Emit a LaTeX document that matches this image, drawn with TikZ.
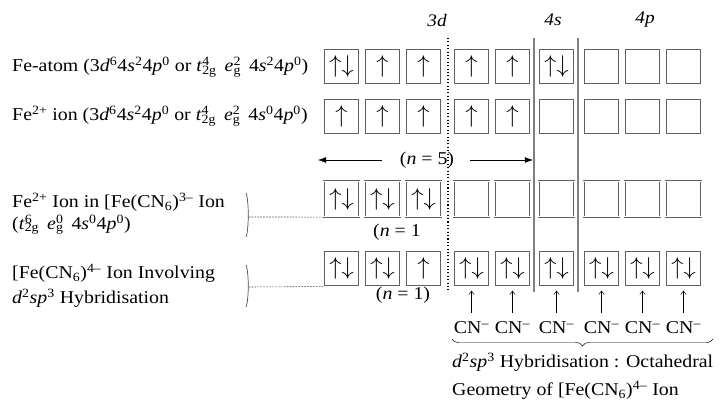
\documentclass[tikz,border=0pt]{standalone}
\usepackage{fontspec}
\setmainfont{Liberation Serif}[FakeStretch=1.1]
\usetikzlibrary{positioning,arrows.meta,decorations.pathreplacing}

\newcommand{\orb}[3]{#1\textit{#2}\textsuperscript{#3}}
\newcommand{\orbsub}[3]{\textit{#1}\rlap{\textsuperscript{#2}}\textsubscript{#3}\,}
\newcommand{\ud}{$\uparrow\downarrow$}
\newcommand{\uo}{$\uparrow$}
\newcommand{\cnion}{CN\textsuperscript{–}}

\begin{document}
\begin{tikzpicture}[
    x=0.03cm, y=-0.03cm,
    font=\fontsize{15.4}{19}\selectfont,
    orbital/.style={rectangle, draw=gray!75!black, double, double distance=0.7pt, minimum size=1.07cm, inner sep=0pt, font=\fontsize{21}{21}\selectfont},
    label/.style={anchor=west, align=left, inner sep=0pt},
    shell/.style={font=\fontsize{15}{15}\selectfont\itshape},
    divider/.style={draw=gray, line width=0.9pt},
    bracket/.style={draw=gray!60!black, line width=0.6pt},
    link/.style={draw=gray!60!black, dash pattern=on 1.5pt off 1pt, line width=0.5pt},
    cnarrow/.style={-{Straight Barb[length=3pt,width=4.5pt]}, thin, shorten <=1.5mm, shorten >=1.2mm}
]
\useasboundingbox (0,0) rectangle (721,400);

% Shell headings and dividers
\node[shell] (h3d) at (437,20) {3d};
\node[shell] (h4s) at (553,20) {4s};
\node[shell] (h4p) at (645,20) {4p};
\draw[divider, dotted, line width=1pt, black] (448,38) -- (448,292);
\draw[divider] (534,38) -- (534,292);
\draw[divider] (578,38) -- (578,292);

% Row 1 - Fe atom
\node[label] (lab1) at (12,67) {Fe-atom (\orb{3}{d}{6}\orb{4}{s}{2}\orb{4}{p}{0} or \orbsub{t}{4}{2g} \orbsub{e}{2}{g} \orb{4}{s}{2}\orb{4}{p}{0})};
\node[orbital] (r1b1) at (341.5,66.5) {\ud};
\node[orbital] (r1b2) at (382.5,66.5) {\uo};
\node[orbital] (r1b3) at (423.5,66.5) {\uo};
\node[orbital] (r1b4) at (471.5,66.5) {\uo};
\node[orbital] (r1b5) at (512.5,66.5) {\uo};
\node[orbital] (r1b6) at (556.5,66.5) {\ud};
\node[orbital] (r1b7) at (601.5,66.5) {};
\node[orbital] (r1b8) at (642.5,66.5) {};
\node[orbital] (r1b9) at (683.5,66.5) {};

% Row 2 - Fe2+ ion
\node[label] (lab2) at (12,116) {Fe\textsuperscript{2+} ion (\orb{3}{d}{6}\orb{4}{s}{2}\orb{4}{p}{0} or \orbsub{t}{4}{2g} \orbsub{e}{2}{g} \orb{4}{s}{0}\orb{4}{p}{0})};
\node[orbital] (r2b1) at (341.5,116.5) {\uo};
\node[orbital] (r2b2) at (382.5,116.5) {\uo};
\node[orbital] (r2b3) at (423.5,116.5) {\uo};
\node[orbital] (r2b4) at (471.5,116.5) {\uo};
\node[orbital] (r2b5) at (512.5,116.5) {\uo};
\node[orbital] (r2b6) at (556.5,116.5) {};
\node[orbital] (r2b7) at (601.5,116.5) {};
\node[orbital] (r2b8) at (642.5,116.5) {};
\node[orbital] (r2b9) at (683.5,116.5) {};

% Unpaired count
\node (n5) at (427,160) {(\textit{n} = 5)};
\coordinate (n5l) at (318,160);
\coordinate (n5r) at (533,160);
\draw[-{Latex[length=7pt,width=5pt]}] (n5.west) ++(-14,0) -- (n5l);
\draw[-{Latex[length=7pt,width=5pt]}] (n5.east) ++(12,0) -- (n5r);

% Row 3 - low spin Fe2+
\node[label, font=\fontsize{15.4}{18.5}\selectfont] (lab3) at (12,214) {Fe\textsuperscript{2+} Ion in [Fe(CN\textsubscript{6})\textsuperscript{3–} Ion\\(\orbsub{t}{6}{2g} \orbsub{e}{0}{g} \orb{4}{s}{0}\orb{4}{p}{0})};
\node[orbital] (r3b1) at (341.5,199) {\ud};
\node[orbital] (r3b2) at (382.5,199) {\ud};
\node[orbital] (r3b3) at (423.5,199) {\ud};
\node[orbital] (r3b4) at (471.5,199) {};
\node[orbital] (r3b5) at (512.5,199) {};
\node[orbital] (r3b6) at (556.5,199) {};
\node[orbital] (r3b7) at (601.5,199) {};
\node[orbital] (r3b8) at (642.5,199) {};
\node[orbital] (r3b9) at (683.5,199) {};
\node (n1a) at (397,232) {(\textit{n} = 1};
\draw[bracket] (246,193) .. controls (249,200) and (249,230) .. (246,237);
\coordinate (br3) at (248.5,217);
\draw[link] (br3) -- (r3b1.south west);

% Row 4 - hybridised complex
\node[label, font=\fontsize{15.4}{21}\selectfont] (lab4) at (12,286) {[Fe(CN\textsubscript{6})\textsuperscript{4–} Ion Involving\\\textit{d}\textsuperscript{2}\textit{sp}\textsuperscript{3} Hybridisation};
\node[orbital] (r4b1) at (341.5,268.5) {\ud};
\node[orbital] (r4b2) at (382.5,268.5) {\ud};
\node[orbital] (r4b3) at (423.5,268.5) {\uo};
\node[orbital] (r4b4) at (471.5,268.5) {\ud};
\node[orbital] (r4b5) at (512.5,268.5) {\ud};
\node[orbital] (r4b6) at (556.5,268.5) {\ud};
\node[orbital] (r4b7) at (601.5,268.5) {\ud};
\node[orbital] (r4b8) at (642.5,268.5) {\ud};
\node[orbital] (r4b9) at (683.5,268.5) {\ud};
\node (n1b) at (403,295) {(\textit{n} = 1)};
\draw[bracket] (246,265) .. controls (249,272) and (249,300) .. (246,307);
\coordinate (br4) at (248.5,287);
\draw[link] (br4) -- (r4b1.south west);

% Ligands
\node (cn4) at (471.5,328) {\cnion};
\node (cn5) at (512.5,328) {\cnion};
\node (cn6) at (556.5,328) {\cnion};
\node (cn7) at (601.5,328) {\cnion};
\node (cn8) at (642.5,328) {\cnion};
\node (cn9) at (683.5,328) {\cnion};
\draw[cnarrow] (cn4) -- (r4b4);
\draw[cnarrow] (cn5) -- (r4b5);
\draw[cnarrow] (cn6) -- (r4b6);
\draw[cnarrow] (cn7) -- (r4b7);
\draw[cnarrow] (cn8) -- (r4b8);
\draw[cnarrow] (cn9) -- (r4b9);

% Brace and caption
\draw[decorate, decoration={brace, mirror, amplitude=6pt}] (452,339) -- (713,339);
\node[label, anchor=north west, font=\fontsize{15.4}{24}\selectfont] (caption) at (452,353) {\textit{d}\textsuperscript{2}\textit{sp}\textsuperscript{3} Hybridisation : Octahedral\\Geometry of [Fe(CN\textsubscript{6})\textsuperscript{4–} Ion};

\end{tikzpicture}
\end{document}
